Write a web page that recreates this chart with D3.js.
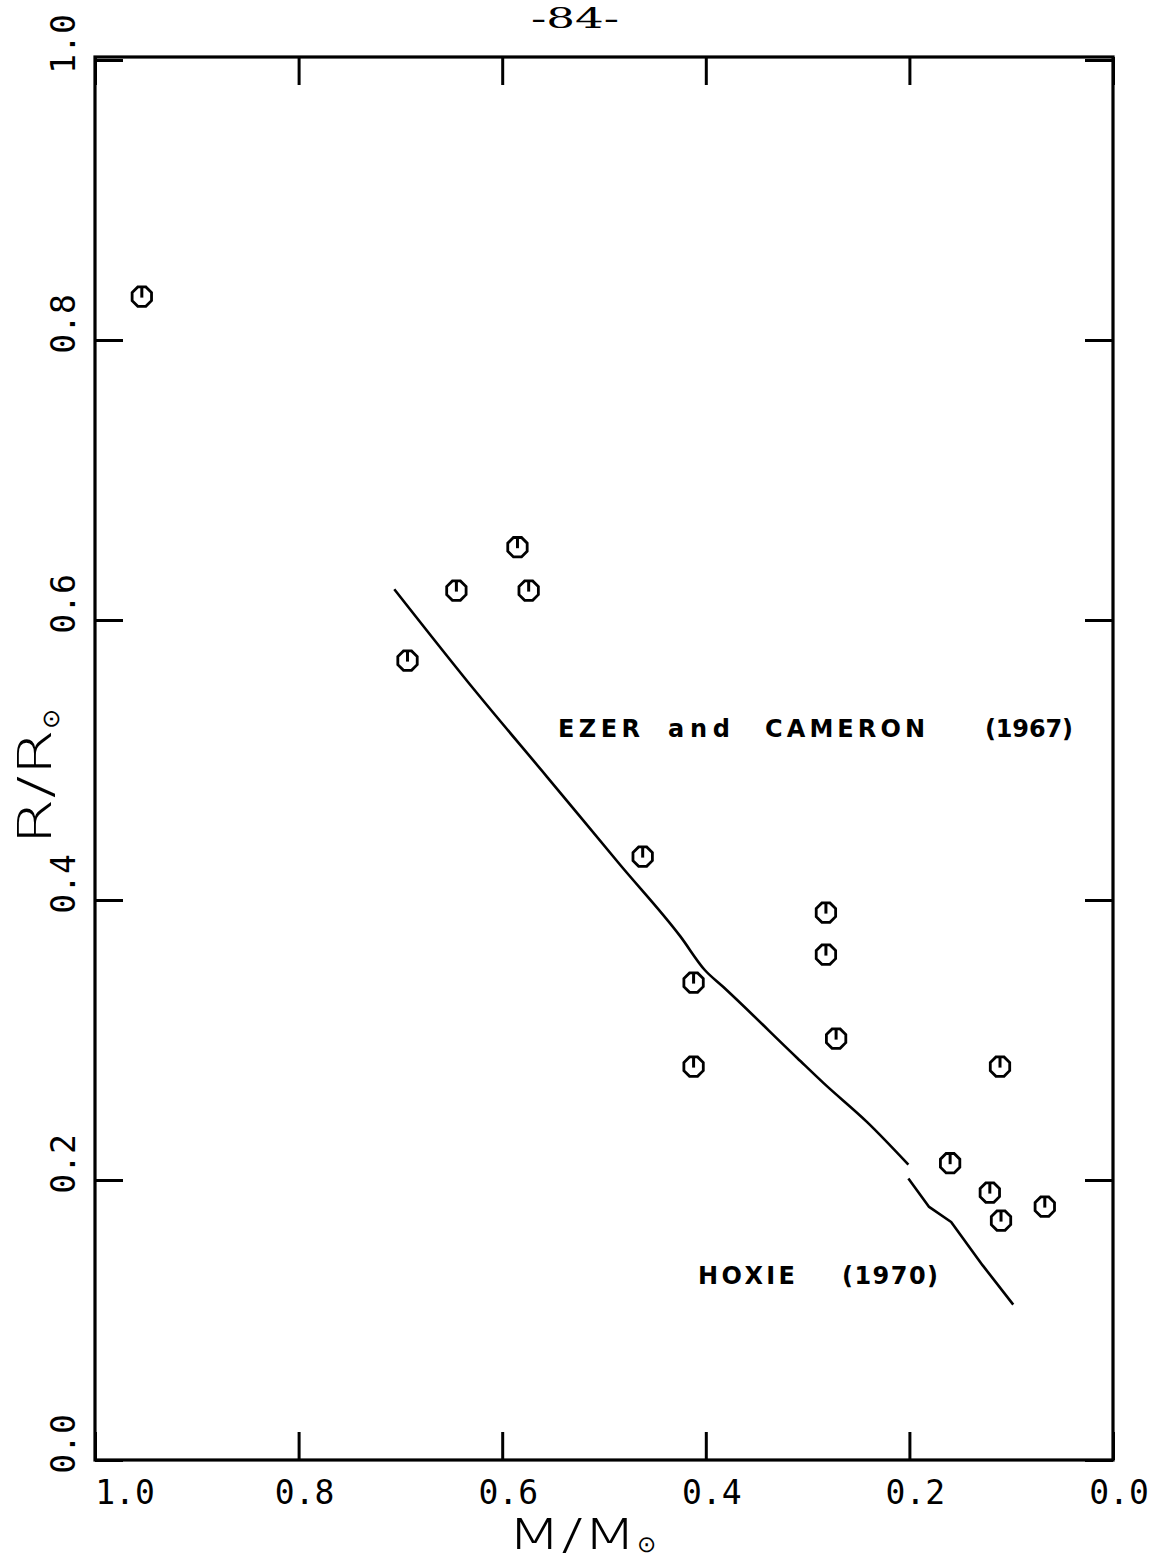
<!DOCTYPE html>
<html>
<head>
<meta charset="utf-8">
<script src="https://cdn.jsdelivr.net/npm/d3@7/dist/d3.min.js"></script>
<style>
  html, body { margin: 0; padding: 0; background: #fff; }
  svg { display: block; }
</style>
</head>
<body>
<svg id="chart" width="1154" height="1560"></svg>
<script>
// Tick values
const massTicks = [1.0, 0.8, 0.6, 0.4, 0.2, 0.0];
const radiusTicks = [0.0, 0.2, 0.4, 0.6, 0.8, 1.0];

// Observed stars: mass and radius in solar units
const obsMass   = [0.954, 0.693, 0.645, 0.585, 0.574, 0.462, 0.412, 0.412, 0.282, 0.282, 0.272, 0.111, 0.160, 0.121, 0.110, 0.067];
const obsRadius = [0.831, 0.571, 0.621, 0.652, 0.621, 0.431, 0.341, 0.281, 0.391, 0.361, 0.301, 0.281, 0.212, 0.191, 0.171, 0.181];

// Ezer and Cameron (1967) model sequence
const ezerMass   = [0.706, 0.625, 0.556, 0.484, 0.425, 0.401, 0.383, 0.310, 0.284, 0.241, 0.201];
const ezerRadius = [0.622, 0.548, 0.488, 0.425, 0.374, 0.350, 0.338, 0.287, 0.269, 0.241, 0.211];

// Hoxie (1970) model sequence
const hoxieMass   = [0.201, 0.181, 0.159, 0.128, 0.098];
const hoxieRadius = [0.201, 0.181, 0.170, 0.139, 0.111];

const svg = d3.select("#chart");
const x = d3.scaleLinear().domain([1.0, 0.0]).range([95, 1113]);
const y = d3.scaleLinear().domain([0.0, 1.0]).range([1460, 60]);

const ink = "#000";
const tickFont = "'DejaVu Sans Mono', monospace";
const TICK = 28;

// Page number
svg.append("text")
  .attr("x", 531).attr("y", 28)
  .attr("textLength", 88).attr("lengthAdjust", "spacingAndGlyphs")
  .style("font-family", "'DejaVu Serif', 'Liberation Serif', serif")
  .style("font-size", "28px")
  .text("-84-");

// Frame
svg.append("rect")
  .attr("x", x(1.0)).attr("y", 57)
  .attr("width", x(0.0) - x(1.0)).attr("height", y(0) - 57)
  .attr("fill", "none").attr("stroke", ink).attr("stroke-width", 3.2);

// Inward ticks on all four sides
const g = svg.append("g");
const bottomAxis = d3.axisBottom(x).tickValues(massTicks).tickSizeInner(-TICK).tickSizeOuter(0).tickFormat("");
const topAxis = d3.axisTop(x).tickValues(massTicks).tickSizeInner(-TICK).tickSizeOuter(0).tickFormat("");
const leftAxis = d3.axisLeft(y).tickValues(radiusTicks).tickSizeInner(-TICK).tickSizeOuter(0).tickFormat("");
const rightAxis = d3.axisRight(y).tickValues(radiusTicks).tickSizeInner(-TICK).tickSizeOuter(0).tickFormat("");
[[bottomAxis, `translate(0,${y(0)})`], [topAxis, `translate(0,57)`],
 [leftAxis, `translate(${x(1.0)},0)`], [rightAxis, `translate(${x(0.0)},0)`]].forEach(([ax, tr]) => {
  const a = g.append("g").attr("transform", tr).call(ax);
  a.select(".domain").remove();
  a.selectAll(".tick line").attr("stroke", ink).attr("stroke-width", 3);
});

// Mass tick labels
svg.append("g").selectAll("text").data(massTicks).join("text")
  .attr("x", (d, i) => x(d) + (i === 0 ? 30 : 6))
  .attr("y", 1504)
  .attr("text-anchor", "middle")
  .style("font-family", tickFont).style("font-size", "33px")
  .text(d => d.toFixed(1));

// Radius tick labels (rotated)
svg.append("g").selectAll("text").data(radiusTicks).join("text")
  .attr("transform", d => `translate(75,${y(d) - 16}) rotate(-90)`)
  .attr("text-anchor", "middle")
  .style("font-family", tickFont).style("font-size", "33px")
  .text(d => d.toFixed(1));

// Axis titles
const titleFont = "'DejaVu Sans', sans-serif";
const xt = svg.append("text")
  .attr("x", 507).attr("y", 1549)
  .style("font-family", titleFont).style("font-size", "43px").style("font-weight", "300");
xt.append("tspan").attr("textLength", 130).attr("lengthAdjust", "spacingAndGlyphs").text("M/M");
xt.append("tspan").attr("dy", 3).style("font-size", "23px").text("\u2299");

const yt = svg.append("text")
  .attr("transform", "translate(51,845) rotate(-90)")
  .style("font-family", titleFont).style("font-size", "46px").style("font-weight", "300");
yt.append("tspan").attr("textLength", 116).attr("lengthAdjust", "spacingAndGlyphs").text("R/R");
yt.append("tspan").attr("dy", 8).style("font-size", "24px").text("\u2299");

// Model curves
const line = d3.line().x(d => x(d[0])).y(d => y(d[1])).curve(d3.curveMonotoneX);
svg.append("path")
  .datum(d3.zip(ezerMass, ezerRadius))
  .attr("d", line).attr("fill", "none").attr("stroke", ink).attr("stroke-width", 2.6)
  .attr("stroke-linejoin", "round");
svg.append("path")
  .datum(d3.zip(hoxieMass, hoxieRadius))
  .attr("d", d3.line().x(d => x(d[0])).y(d => y(d[1])))
  .attr("fill", "none").attr("stroke", ink).attr("stroke-width", 2.6)
  .attr("stroke-linejoin", "round");

// Curve labels
const lblFont = "'DejaVu Sans', sans-serif";
function label(txt, x0, x1, yb) {
  svg.append("text")
    .attr("x", x0).attr("y", yb)
    .attr("textLength", x1 - x0).attr("lengthAdjust", "spacing")
    .style("font-family", lblFont).style("font-size", "24px").style("font-weight", "bold")
    .text(txt);
}
label("EZER", 558, 640, 737);
label("and", 668, 730, 737);
label("CAMERON", 765, 925, 737);
label("(1967)", 985, 1073, 737);
label("HOXIE", 698, 795, 1284);
label("(1970)", 842, 938, 1284);

// Observation markers: octagonal ring with a tick from the top to the centre
const R = 10.5;
const oct = d3.range(8).map(k => {
  const a = Math.PI / 8 + k * Math.PI / 4;
  return [R * Math.cos(a), R * Math.sin(a)];
});
const octPath = "M" + oct.map(p => p.join(",")).join("L") + "Z";
const marks = svg.append("g").selectAll("g").data(d3.zip(obsMass, obsRadius)).join("g")
  .attr("transform", d => `translate(${x(d[0])},${y(d[1])})`);
marks.append("path").attr("d", octPath)
  .attr("fill", "none").attr("stroke", ink).attr("stroke-width", 2.8);
marks.append("line")
  .attr("x1", 0).attr("y1", -R).attr("x2", 0).attr("y2", 1)
  .attr("stroke", ink).attr("stroke-width", 3);
</script>
</body>
</html>
